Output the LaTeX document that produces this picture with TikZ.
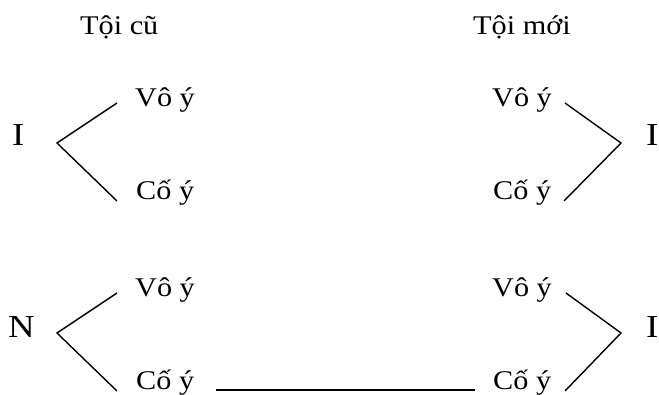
\documentclass[tikz,border=0pt]{standalone}
\usepackage{fontspec}
\setmainfont{Liberation Serif}
\begin{document}
\begin{tikzpicture}[x=1pt,y=-1pt,
  txt/.style={inner sep=0pt, anchor=base west, font=\fontsize{27}{30}\selectfont, xscale=1.12},
  big/.style={inner sep=0pt, anchor=base west, font=\fontsize{32}{36}\selectfont, xscale=1.15},
  ln/.style={line width=1.4pt}]
\useasboundingbox (0,0) rectangle (659,395);
% headers
\node[txt] (hl) at (80,35) {Tội cũ};
\node[txt] (hr) at (473,35) {Tội mới};
% left labels
\node[big] (I1) at (12,146) {I};
\node[big] (N1) at (8,338) {N};
% right labels
\node[big] (I2) at (646,146) {I};
\node[big] (I3) at (646,338) {I};
% left column texts
\node[txt] (lv1) at (135,107) {Vô ý};
\node[txt] (lc1) at (136,200) {Cố ý};
\node[txt] (lv2) at (135,297) {Vô ý};
\node[txt] (lc2) at (136,390) {Cố ý};
% right column texts
\node[txt] (rv1) at (492,107) {Vô ý};
\node[txt] (rc1) at (493,200) {Cố ý};
\node[txt] (rv2) at (492,297) {Vô ý};
\node[txt] (rc2) at (493,390) {Cố ý};
% branch coordinates
\coordinate (a1) at (117,103); \coordinate (p1) at (57,143); \coordinate (b1) at (117,201);
\coordinate (a2) at (117,293); \coordinate (p2) at (57,333); \coordinate (b2) at (117,391);
\coordinate (c1) at (565,103); \coordinate (q1) at (621,143); \coordinate (d1) at (564,201);
\coordinate (c2) at (566,293); \coordinate (q2) at (621,333); \coordinate (d2) at (565,391);
\coordinate (h1) at (216,390); \coordinate (h2) at (475,390);
\draw[ln] (a1) -- (p1) -- (b1);
\draw[ln] (a2) -- (p2) -- (b2);
\draw[ln] (c1) -- (q1) -- (d1);
\draw[ln] (c2) -- (q2) -- (d2);
\draw[ln] (h1) -- (h2);
\end{tikzpicture}
\end{document}
